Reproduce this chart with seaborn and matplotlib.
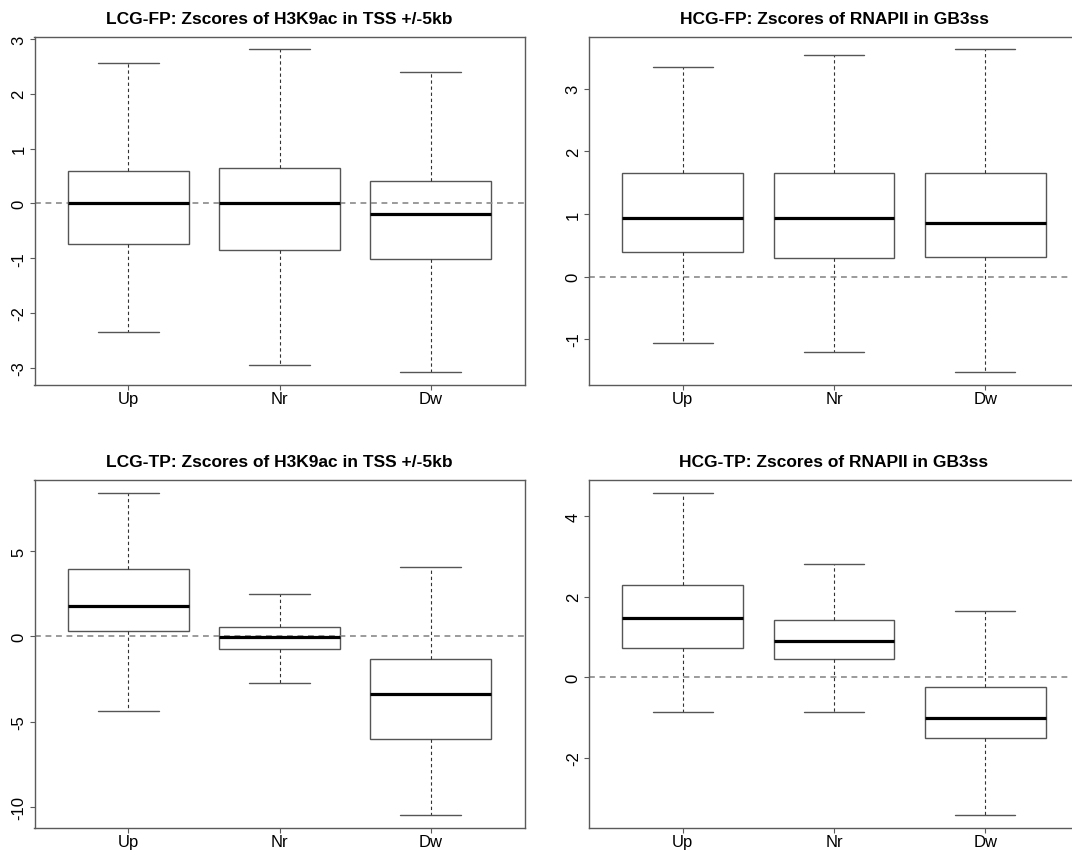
import numpy as np
import pandas as pd
import matplotlib
matplotlib.use("Agg")
import matplotlib.pyplot as plt
import seaborn as sns

# ---------------- data ----------------
groups = ["Up", "Nr", "Dw"]

titles = [
    "LCG-FP: Zscores of H3K9ac in TSS +/-5kb",
    "HCG-FP: Zscores of RNAPII in GB3ss",
    "LCG-TP: Zscores of H3K9ac in TSS +/-5kb",
    "HCG-TP: Zscores of RNAPII in GB3ss",
]

# five-number summaries per group: lower whisker, Q1, median, Q3, upper whisker
lcg_fp_whisker_low = [-2.34, -2.95, -3.07]
lcg_fp_q1 = [-0.75, -0.845, -1.01]
lcg_fp_median = [0.00, 0.00, -0.20]
lcg_fp_q3 = [0.59, 0.64, 0.40]
lcg_fp_whisker_high = [2.57, 2.81, 2.40]

hcg_fp_whisker_low = [-1.06, -1.21, -1.52]
hcg_fp_q1 = [0.39, 0.29, 0.31]
hcg_fp_median = [0.94, 0.93, 0.86]
hcg_fp_q3 = [1.66, 1.66, 1.66]
hcg_fp_whisker_high = [3.35, 3.54, 3.63]

lcg_tp_whisker_low = [-4.39, -2.71, -10.47]
lcg_tp_q1 = [0.29, -0.76, -6.02]
lcg_tp_median = [1.76, -0.04, -3.40]
lcg_tp_q3 = [3.98, 0.57, -1.33]
lcg_tp_whisker_high = [8.44, 2.46, 4.10]

hcg_tp_whisker_low = [-0.87, -0.87, -3.42]
hcg_tp_q1 = [0.72, 0.455, -1.52]
hcg_tp_median = [1.48, 0.89, -1.02]
hcg_tp_q3 = [2.29, 1.42, -0.25]
hcg_tp_whisker_high = [4.59, 2.82, 1.65]

yticks_lcg_fp = [-3, -2, -1, 0, 1, 2, 3]
yticks_hcg_fp = [-1, 0, 1, 2, 3]
yticks_lcg_tp = [-10, -5, 0, 5]
yticks_hcg_tp = [-2, 0, 2, 4]

panels = [
    (lcg_fp_whisker_low, lcg_fp_q1, lcg_fp_median, lcg_fp_q3, lcg_fp_whisker_high, yticks_lcg_fp),
    (hcg_fp_whisker_low, hcg_fp_q1, hcg_fp_median, hcg_fp_q3, hcg_fp_whisker_high, yticks_hcg_fp),
    (lcg_tp_whisker_low, lcg_tp_q1, lcg_tp_median, lcg_tp_q3, lcg_tp_whisker_high, yticks_lcg_tp),
    (hcg_tp_whisker_low, hcg_tp_q1, hcg_tp_median, hcg_tp_q3, hcg_tp_whisker_high, yticks_hcg_tp),
]

# ---------------- style ----------------
sns.set_theme(style="white")
plt.rcParams["font.family"] = ["Liberation Sans", "DejaVu Sans"]
plt.rcParams["axes.unicode_minus"] = False

W, H = 1072, 854
fig = plt.figure(figsize=(W / 100, H / 100), dpi=100)

# axes rectangles in pixels: (left, top, right, bottom)
rects_px = [
    (34.5, 37.5, 524.5, 385.5),
    (589.0, 37.5, 1079.0, 385.5),
    (34.5, 480.7, 524.5, 828.7),
    (589.0, 480.7, 1079.0, 828.7),
]

frame_col = "#5a5a5a"
box_col = "#555555"

for (lo, q1, med, q3, hi, yt), title, (l, t, r, b) in zip(panels, titles, rects_px):
    ax = fig.add_axes([l / W, (H - b) / H, (r - l) / W, (b - t) / H])
    rows = []
    for g, a, c, m, d, e in zip(groups, lo, q1, med, q3, hi):
        for v in (a, c, m, d, e):
            rows.append({"group": g, "value": v})
    df = pd.DataFrame(rows)

    sns.boxplot(
        data=df, x="group", y="value", order=groups, ax=ax,
        whis=(0, 100), width=0.8, color="white", linecolor=box_col,
        linewidth=1.0, showfliers=False,
        medianprops={"color": "black", "linewidth": 2.3, "zorder": 10},
        whiskerprops={"color": "#333333", "linewidth": 0.8, "linestyle": (0, (3, 2.5))},
        capprops={"color": box_col, "linewidth": 1.0},
        boxprops={"edgecolor": box_col, "linewidth": 1.0},
    )

    ax.axhline(0, color="#8a8a8a", linewidth=1.2, linestyle=(0, (3.5, 2.8)), zorder=6)

    vmin, vmax = min(lo), max(hi)
    span = vmax - vmin
    ax.set_ylim(vmin - 0.04 * span, vmax + 0.04 * span)
    ax.set_xlim(-0.62, 2.62)
    ax.set_yticks(yt)
    ax.set_yticklabels([str(v) for v in yt])
    ax.set_xlabel("")
    ax.set_ylabel("")

    for sp in ax.spines.values():
        sp.set_visible(True)
        sp.set_color(frame_col)
        sp.set_linewidth(1.0)
        sp.set_zorder(12)

    ax.tick_params(axis="both", which="major", bottom=True, left=True,
                   direction="out", length=3.3, width=0.8, color=frame_col,
                   labelsize=12, labelcolor="black")
    ax.tick_params(axis="x", pad=1.2)
    ax.tick_params(axis="y", pad=2.6)
    for lab in ax.get_yticklabels():
        lab.set_rotation(90)
        lab.set_va("center")
        lab.set_ha("right")

    ax.set_title(title, fontsize=12.5, fontweight="bold", pad=10, color="black")

fig.savefig("out.png", dpi=100, facecolor="white")
